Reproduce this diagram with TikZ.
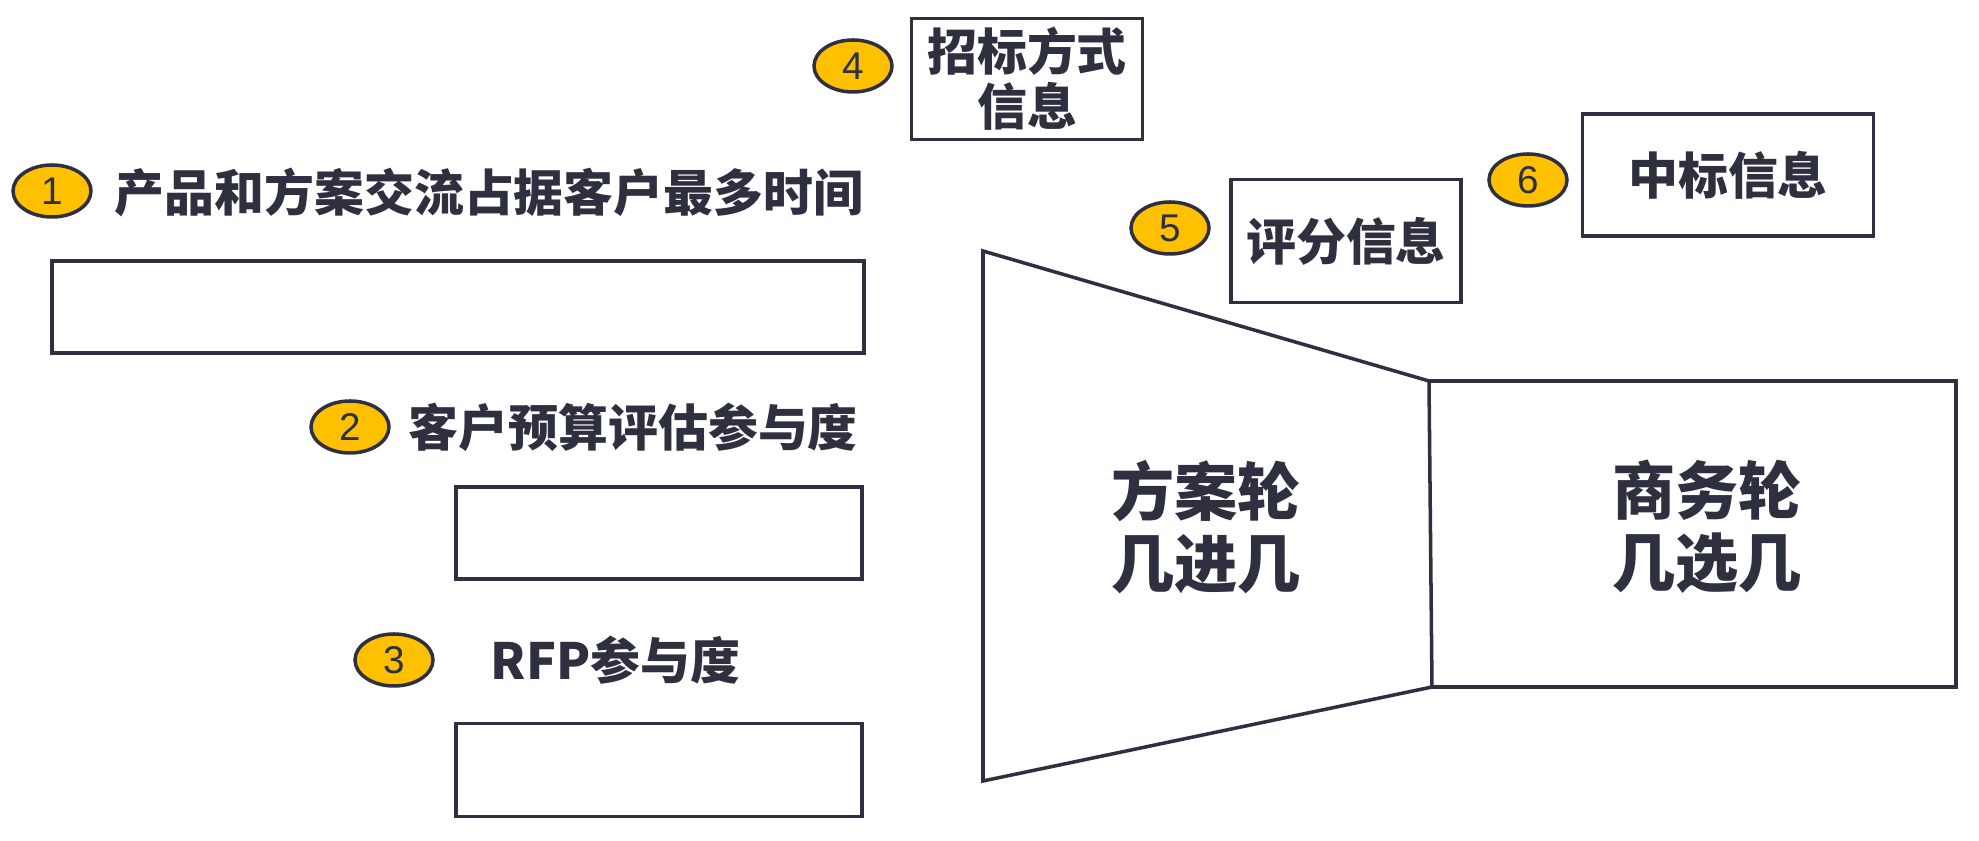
\documentclass[tikz,border=0pt]{standalone}
\usepackage{fontspec}
\setmainfont{Noto Sans CJK SC}
\newfontfamily\digitfont{Liberation Sans}
\usetikzlibrary{shapes.geometric}
\definecolor{ink}{HTML}{2E3040}
\definecolor{gold}{HTML}{FFC000}

\begin{document}
\begin{tikzpicture}[
  badge/.style={draw=ink, line width=1pt, fill=gold, ellipse, minimum width=0.78cm, minimum height=0.52cm, inner sep=0pt, text=ink, font=\digitfont\fontsize{11}{11}\selectfont},
  head/.style={anchor=west, inner sep=0pt, text=ink, font=\bfseries\fontsize{14.2}{15.6}\selectfont},
  panel/.style={draw=ink, line width=1pt, rectangle, inner sep=0pt, text=ink, align=center, font=\bfseries\fontsize{14.2}{15.6}\selectfont},
  stage/.style={inner sep=0pt, text=ink, align=center, font=\bfseries\fontsize{18}{20.5}\selectfont}
]
  \useasboundingbox (0,0) rectangle (19.79,-8.41);
  % left column
  \node[badge] (c1) at (0.52,-1.91) {1};
  \node[head] (t1) at (1.14,-1.92) {产品和方案交流占据客户最多时间};
  \node[panel, minimum width=8.12cm, minimum height=0.92cm] (b1) at (4.58,-3.07) {};
  \node[badge] (c2) at (3.50,-4.27) {2};
  \node[head] (t2) at (4.08,-4.27) {客户预算评估参与度};
  \node[panel, minimum width=4.06cm, minimum height=0.92cm] (b2) at (6.59,-5.33) {};
  \node[badge] (c3) at (3.94,-6.60) {3};
  \node[head] (t3) at (4.90,-6.60) {RFP参与度};
  \node[panel, minimum width=4.06cm, minimum height=0.93cm] (b3) at (6.59,-7.70) {};
  % top row
  \node[badge] (c4) at (8.53,-0.66) {4};
  \node[panel, minimum width=2.31cm, minimum height=1.21cm] (b4) at (10.27,-0.79) {招标方式\\信息};
  \node[badge] (c5) at (11.70,-2.28) {5};
  \node[panel, minimum width=2.30cm, minimum height=1.23cm] (b5) at (13.46,-2.41) {评分信息};
  \node[badge] (c6) at (15.28,-1.80) {6};
  \node[panel, minimum width=2.91cm, minimum height=1.22cm] (b6) at (17.28,-1.75) {中标信息};
  % funnel
  \coordinate (ftl) at (9.83,-2.51);
  \coordinate (ftr) at (14.29,-3.81);
  \coordinate (fbr) at (14.32,-6.87);
  \coordinate (fbl) at (9.83,-7.81);
  \coordinate (rtr) at (19.56,-3.81);
  \coordinate (rbr) at (19.56,-6.87);
  \draw[ink, line width=1pt] (ftl) -- (ftr) -- (fbr) -- (fbl) -- cycle;
  \draw[ink, line width=1pt] (ftr) -- (rtr) -- (rbr) -- (fbr);
  \node[stage] (plan) at (12.06,-5.27) {方案轮\\几进几};
  \node[stage] (deal) at (17.07,-5.27) {商务轮\\几选几};
\end{tikzpicture}
\end{document}
